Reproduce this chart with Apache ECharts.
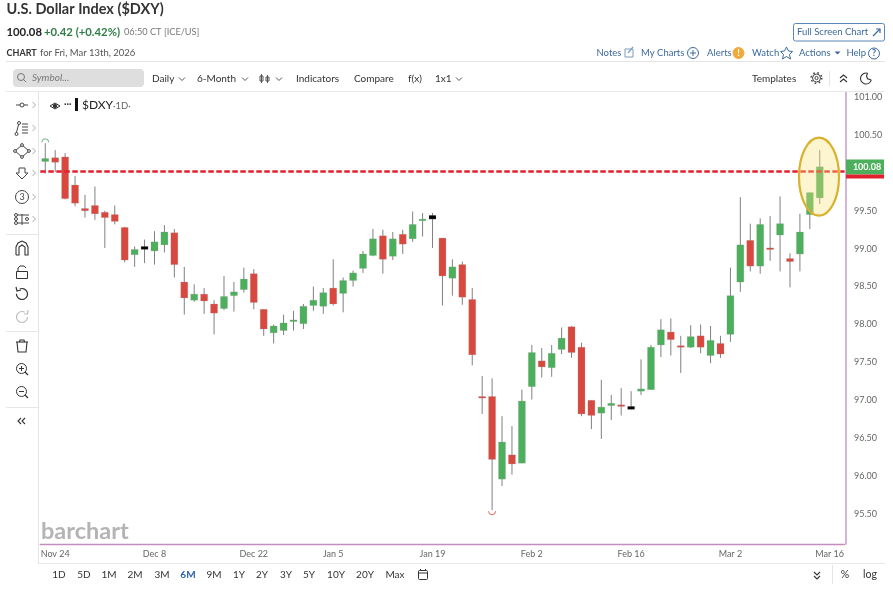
<!DOCTYPE html>
<html>
<head>
<meta charset="utf-8">
<title>U.S. Dollar Index ($DXY)</title>
<style>
html, body { margin: 0; padding: 0; background: #fff; }
#chart { width: 893px; height: 590px; }
</style>
<script src="https://cdn.jsdelivr.net/npm/echarts@6/dist/echarts.min.js"></script>
</head>
<body>
<div id="chart"></div>
<script>
// trading days, the last two are the empty slots right of the last bar
var dates = ['Nov 21',
    'Nov 24', 'Nov 25', 'Nov 26', 'Nov 27', 'Nov 28', 'Dec 1', 'Dec 2', 'Dec 3', 'Dec 4', 'Dec 5',
    'Dec 8', 'Dec 9', 'Dec 10', 'Dec 11', 'Dec 12', 'Dec 15', 'Dec 16', 'Dec 17', 'Dec 18', 'Dec 19',
    'Dec 22', 'Dec 23', 'Dec 24', 'Dec 26', 'Dec 29', 'Dec 30', 'Dec 31', 'Jan 2',
    'Jan 5', 'Jan 6', 'Jan 7', 'Jan 8', 'Jan 9', 'Jan 12', 'Jan 13', 'Jan 14', 'Jan 15', 'Jan 16',
    'Jan 19', 'Jan 20', 'Jan 21', 'Jan 22', 'Jan 23', 'Jan 26', 'Jan 27', 'Jan 28', 'Jan 29', 'Jan 30',
    'Feb 2', 'Feb 3', 'Feb 4', 'Feb 5', 'Feb 6', 'Feb 9', 'Feb 10', 'Feb 11', 'Feb 12', 'Feb 13',
    'Feb 16', 'Feb 17', 'Feb 18', 'Feb 19', 'Feb 20', 'Feb 23', 'Feb 24', 'Feb 25', 'Feb 26', 'Feb 27',
    'Mar 2', 'Mar 3', 'Mar 4', 'Mar 5', 'Mar 6', 'Mar 9', 'Mar 10', 'Mar 11', 'Mar 12', 'Mar 13',
    'Mar 16', 'Mar 17'];
var opens = [100.15, 100.20, 100.21, 99.84, 99.53, 99.57, 99.48, 99.45, 99.28, 98.92,
    99.03, 98.97, 99.05, 99.21, 98.56, 98.32, 98.40, 98.27, 98.21, 98.38,
    98.46, 98.67, 98.20, 97.89, 97.92, 98.04, 98.01, 98.25, 98.24, 98.48,
    98.41, 98.58, 98.74, 98.91, 99.17, 98.90, 99.19, 99.13, 99.37, 99.44,
    99.14, 98.61, 98.79, 98.33, 97.05, 97.05, 95.96, 96.28, 96.17, 97.18,
    97.52, 97.43, 97.67, 97.97, 97.70, 97.00, 96.83, 96.93, 96.94, 96.92,
    97.12, 97.14, 97.73, 97.90, 97.72, 97.70, 97.85, 97.59, 97.75, 97.87,
    98.56, 99.11, 98.77, 99.01, 99.18, 98.87, 98.93, 99.45, 99.67];
var closes = [100.19, 100.14, 99.66, 99.60, 99.50, 99.46, 99.41, 99.36, 98.85, 98.99,
    98.99, 99.09, 99.22, 98.79, 98.35, 98.40, 98.31, 98.15, 98.37, 98.43,
    98.60, 98.29, 97.94, 97.98, 98.02, 98.06, 98.24, 98.32, 98.42, 98.27,
    98.58, 98.68, 98.93, 99.13, 98.86, 99.13, 99.06, 99.32, 99.39, 99.39,
    98.64, 98.76, 98.36, 97.60, 97.03, 96.22, 96.45, 96.16, 96.99, 97.63,
    97.44, 97.62, 97.82, 97.63, 96.82, 96.80, 96.91, 96.96, 96.92, 96.88,
    97.15, 97.70, 97.93, 97.80, 97.70, 97.84, 97.70, 97.79, 97.61, 98.38,
    99.05, 98.77, 99.32, 98.99, 99.33, 98.83, 99.22, 99.74, 100.08];
var highs = [100.39, 100.30, 100.26, 99.96, 99.71, 99.82, 99.50, 99.57, 99.29, 99.03,
    99.12, 99.23, 99.31, 99.26, 98.76, 98.53, 98.48, 98.32, 98.64, 98.56,
    98.75, 98.73, 98.20, 98.00, 98.13, 98.18, 98.27, 98.50, 98.48, 98.86,
    98.62, 98.71, 98.97, 99.26, 99.25, 99.22, 99.25, 99.49, 99.47, 99.47,
    99.14, 98.86, 98.83, 98.48, 97.32, 97.29, 96.79, 96.66, 97.14, 97.73,
    97.69, 97.73, 97.96, 97.98, 97.76, 97.00, 97.27, 97.07, 97.16, 97.12,
    97.54, 97.73, 98.07, 98.08, 97.85, 97.99, 98.00, 97.98, 97.85, 98.75,
    99.68, 99.33, 99.40, 99.43, 99.69, 98.94, 99.46, 99.74, 100.30];
var lows = [99.99, 100.01, 99.65, 99.56, 99.41, 99.38, 99.01, 99.32, 98.82, 98.76,
    98.81, 98.79, 98.95, 98.62, 98.13, 98.30, 98.14, 97.87, 98.19, 98.17,
    98.42, 98.20, 97.85, 97.75, 97.86, 97.92, 97.94, 98.18, 98.14, 98.25,
    98.16, 98.50, 98.68, 98.90, 98.67, 98.85, 98.93, 99.09, 99.16, 99.01,
    98.25, 98.38, 98.26, 97.46, 96.82, 95.55, 95.87, 96.02, 96.17, 97.01,
    97.30, 97.31, 97.61, 97.56, 96.79, 96.62, 96.49, 96.74, 96.80, 96.88,
    97.07, 97.14, 97.57, 97.59, 97.36, 97.69, 97.62, 97.49, 97.56, 97.77,
    98.43, 98.70, 98.67, 98.84, 98.70, 98.49, 98.70, 99.26, 99.59];
var blackBars = [10, 39, 59];
var highBar = 0;
var lowBar = 45;
var tickDates = ['Nov 24', 'Dec 8', 'Dec 22', 'Jan 5', 'Jan 19', 'Feb 2', 'Feb 16', 'Mar 2', 'Mar 16'];
var yTicks = [95.5, 96, 96.5, 97, 97.5, 98, 98.5, 99, 99.5, 100.5, 101];
var dashLevel = 100.02;
var lastPrice = '100.08';
var rangeButtons = ['1D', '5D', '1M', '2M', '3M', '6M', '9M', '1Y', '2Y', '3Y', '5Y', '10Y', '20Y', 'Max'];
var rangeX = [59, 84, 109, 135, 162, 188, 214, 239, 262, 286, 309, 336, 365, 395];

var GREEN = '#4CAF5C', RED = '#D9483E', WICK = '#808080', INK = '#333', LINK = '#3C6A9E';
var FONT = 'Lato, "Open Sans", sans-serif';

function txt(x, y, s, font, fill, align) {
    return { type: 'text', z: 20, style: { x: x, y: y, text: s, font: font + ' ' + FONT, fill: fill || INK, textAlign: align || 'left', textVerticalAlign: 'middle' } };
}
function pl(points, color, w) {
    return { type: 'polyline', z: 20, shape: { points: points }, style: { stroke: color || INK, lineWidth: w || 1, fill: null } };
}
function circ(x, y, r, color, fill, w) {
    return { type: 'circle', z: 20, shape: { cx: x, cy: y, r: r }, style: { stroke: color || INK, lineWidth: w || 1, fill: fill || '#fff' } };
}
function box(x, y, w, h, fill, stroke, r) {
    return { type: 'rect', z: 20, shape: { x: x, y: y, width: w, height: h, r: r || 0 }, style: { fill: fill || null, stroke: stroke || null, lineWidth: 1 } };
}
function chevDown(x, y) {
    return pl([[x - 3, y - 1.5], [x, y + 1.5], [x + 3, y - 1.5]], '#555', 1);
}
function chevRight(x, y) {
    return pl([[x - 1.5, y - 3], [x + 1.5, y], [x - 1.5, y + 3]], '#AAA', 1);
}

function headerItems() {
    var g = [];
    g.push(txt(6.5, 9.5, 'U.S. Dollar Index ($DXY)', 'bold 14.5px'));
    g.push(txt(6.5, 32, '100.08', 'bold 11.3px', '#222'));
    g.push(txt(44, 32, '+0.42 (+0.42%)', 'bold 11.3px', '#2E7D46'));
    g.push(txt(124, 32, '06:50 CT [ICE/US]', '9.2px', '#777'));
    g.push(txt(6.5, 53, 'CHART', 'bold 9px', '#333'));
    g.push(txt(40, 53, 'for Fri, Mar 13th, 2026', '9.5px', '#555'));
    g.push(box(6, 61, 879, 1, '#E4E4E4'));

    // link row
    g.push(box(793.5, 23.5, 91, 17.5, '#fff', '#5B86B8', 2));
    g.push(txt(797, 32, 'Full Screen Chart', '9.5px', LINK));
    g.push(pl([[873, 36], [880, 29]], LINK, 1.2), pl([[876, 29], [880, 29], [880, 33]], LINK, 1.2));
    g.push(txt(596.5, 53, 'Notes', '9.5px', LINK));
    g.push(box(625, 49, 8, 8, null, '#7F9DBE'), pl([[628, 53], [633, 47]], '#7F9DBE', 1.2));
    g.push(txt(641, 53, 'My Charts', '9.5px', LINK));
    g.push(circ(693, 53, 5.5, LINK), pl([[690, 53], [696, 53]], LINK), pl([[693, 50], [693, 56]], LINK));
    g.push(txt(707, 53, 'Alerts', '9.5px', LINK));
    g.push(circ(738.5, 53, 5.5, '#F2A93B', '#F2A93B'), txt(738.5, 53, '!', 'bold 9px', '#fff', 'center'));
    g.push(txt(752, 53, 'Watch', '9.5px', LINK));
    g.push(pl([[786.5, 47], [788.5, 51], [792.5, 51.5], [789.5, 54.5], [790.5, 59], [786.5, 56.5], [782.5, 59], [783.5, 54.5], [780.5, 51.5], [784.5, 51], [786.5, 47]], LINK));
    g.push(txt(799, 53, 'Actions', '9.5px', LINK));
    g.push({ type: 'polygon', z: 20, shape: { points: [[834.5, 51.5], [840.5, 51.5], [837.5, 54.5]] }, style: { fill: LINK } });
    g.push(txt(846.5, 53, 'Help', '9.5px', LINK));
    g.push(circ(874, 53.5, 5.5, LINK), txt(874, 53.5, '?', 'bold 9px', LINK, 'center'));

    // toolbar
    g.push(box(13, 69, 131, 18, '#DEDEDE', null, 4));
    g.push(circ(21, 77, 3.5, '#777', 'transparent'), pl([[23.5, 79.5], [26, 82]], '#777'));
    g.push(txt(32, 78, 'Symbol...', 'italic 10px', '#777'));
    g.push(txt(152, 78.5, 'Daily', '10px'), chevDown(182, 79));
    g.push(txt(197, 78.5, '6-Month', '10px'), chevDown(245, 79));
    g.push(box(260, 76, 3, 5, null, '#555'), pl([[261.5, 74], [261.5, 83]], '#555'), box(266, 77, 3, 4, null, '#555'), pl([[267.5, 75], [267.5, 83]], '#555'), chevDown(279, 79));
    g.push(txt(296, 78.5, 'Indicators', '10px'));
    g.push(txt(354, 78.5, 'Compare', '10px'));
    g.push(txt(408, 78.5, 'f(x)', '10px'));
    g.push(txt(435, 78.5, '1x1', '10px'), chevDown(459, 79));
    g.push(txt(752, 78.5, 'Templates', '10px'));
    var teeth = circ(816.5, 78, 5.3, '#444', 'transparent', 1.5);
    teeth.style.lineDash = [1.6, 2.6];
    g.push(circ(816.5, 78, 4, '#444'), circ(816.5, 78, 1.6, '#444'), teeth);
    g.push(box(829, 71, 1, 15, '#E4E4E4'));
    g.push(pl([[840, 78], [843.5, 75], [847, 78]], '#333', 1.1), pl([[840, 82], [843.5, 79], [847, 82]], '#333', 1.1));
    g.push({ type: 'arc', z: 20, shape: { cx: 866, cy: 78.5, r: 5.5, startAngle: 0.3, endAngle: 5.0, clockwise: true }, style: { stroke: '#333', fill: null, lineWidth: 1.1 } });
    g.push(pl([[867.6, 73.2], [866.5, 76], [867.5, 78.8], [871.3, 80.1]], '#333', 1.1));
    g.push(box(6, 91, 879, 1, '#E8E8E8'));
    return g;
}

function sideItems() {
    var g = [];
    g.push(box(38, 92, 1, 471, '#E6E6E6'));
    [234, 331, 407].forEach(function(y) { g.push(box(6, y, 32, 1, '#E6E6E6')); });
    [105, 128, 151, 173, 197, 219].forEach(function(y) { g.push(chevRight(34, y)); });
    // line tool
    g.push(pl([[16, 105], [28, 105]], '#444'), circ(22, 105, 2, '#444'));
    // fib list
    g.push(pl([[16, 134], [19, 123]], '#444'), circ(16.5, 134, 1.5, '#444'), circ(19, 123, 1.5, '#444'));
    [124, 127, 130, 133].forEach(function(y) { g.push(pl([[22, y], [28, y]], '#444')); });
    // shape
    g.push(pl([[22, 145], [29, 151], [22, 157], [15, 151], [22, 145]], '#444'));
    [[22, 145], [29, 151], [22, 157], [15, 151]].forEach(function(p) { g.push(circ(p[0], p[1], 1.4, '#444')); });
    // arrow down
    g.push(pl([[19, 168], [25, 168], [25, 173], [28, 173], [22, 179], [16, 173], [19, 173], [19, 168]], '#444'));
    // counter
    g.push(circ(22, 197, 6.5, '#444'), txt(22, 197, '3', '9px', '#444', 'center'));
    // pattern tool
    g.push(pl([[15, 215], [29, 215]], '#444'), pl([[15, 223], [29, 223]], '#444'), pl([[22, 214], [22, 225]], '#444'));
    g.push(circ(16, 215, 1.5, '#444'), circ(16, 219, 1.5, '#444'), circ(16, 223, 1.5, '#444'), circ(27, 219, 1.5, '#444'));
    // magnet
    g.push(pl([[16, 255], [16, 247], [18, 243], [22, 241], [26, 243], [28, 247], [28, 255], [25, 255], [25, 247], [22, 245], [19, 247], [19, 255], [16, 255]], '#333', 1.1));
    // lock
    g.push(box(16.5, 271.5, 11, 7, null, '#333'), pl([[18, 271], [18, 268], [20, 266], [24, 266], [26, 268]], '#333'));
    // undo and redo
    g.push({ type: 'arc', z: 20, shape: { cx: 22, cy: 294, r: 5.5, startAngle: -2.0, endAngle: 3.2, clockwise: true }, style: { stroke: '#333', fill: null, lineWidth: 1.2 } });
    g.push(pl([[16, 287], [17, 291], [21, 290]], '#333', 1.2));
    g.push({ type: 'arc', z: 20, shape: { cx: 22, cy: 317, r: 5.5, startAngle: 0, endAngle: 5.2, clockwise: true }, style: { stroke: '#BBB', fill: null, lineWidth: 1.2 } });
    g.push(pl([[28, 310], [27.5, 314], [24, 314]], '#BBB', 1.2));
    // trash
    g.push(pl([[17, 342], [18, 352], [26, 352], [27, 342]], '#333', 1.1), pl([[16, 342], [28, 342]], '#333', 1.1), pl([[19.5, 342], [20, 340], [24, 340], [24.5, 342]], '#333', 1.1));
    // zoom in and out
    g.push(circ(21.5, 368.5, 5, '#333'), pl([[25, 372], [28, 375]], '#333', 1.2), pl([[19, 368.5], [24, 368.5]], '#333'), pl([[21.5, 366], [21.5, 371]], '#333'));
    g.push(circ(21.5, 391.5, 5, '#333'), pl([[25, 395], [28, 398]], '#333', 1.2), pl([[19, 391.5], [24, 391.5]], '#333'));
    // collapse
    g.push(pl([[21, 418], [18, 421], [21, 424]], '#333', 1.1), pl([[25, 418], [22, 421], [25, 424]], '#333', 1.1));
    return g;
}

function footerItems() {
    var g = [];
    g.push(box(38, 563, 847, 1, '#E8E8E8'));
    rangeButtons.forEach(function(b, i) {
        var on = b === '6M';
        g.push(txt(rangeX[i], 575, b, (on ? 'bold ' : '') + '10px', on ? '#2B63A8' : INK, 'center'));
    });
    g.push(box(418.5, 570.5, 9, 9, null, '#333', 1), pl([[418.5, 573], [427.5, 573]], '#333'), pl([[420.5, 569], [420.5, 571]], '#333'), pl([[425.5, 569], [425.5, 571]], '#333'));
    g.push(pl([[814, 572], [817, 575], [820, 572]], '#333', 1.1), pl([[814, 576], [817, 579], [820, 576]], '#333', 1.1));
    g.push(box(832, 565, 1, 19, '#E4E4E4'));
    g.push(txt(845, 575, '%', '10.5px', INK, 'center'));
    g.push(txt(870, 575, 'log', '10.5px', INK, 'center'));
    return g;
}

function chartItems() {
    var g = [];
    // legend
    g.push(pl([[50, 106], [55, 103], [60, 106], [55, 109], [50, 106]], '#333'), circ(55, 106, 1.8, '#333', '#333'));
    g.push(txt(64, 104, '···', 'bold 9px', '#333'));
    g.push(box(75, 98, 3, 13, '#111'));
    g.push(txt(82, 105.5, '$DXY', '12px', '#222'));
    g.push(txt(113, 105.5, '·1D·', '9.5px', '#666'));
    // watermark
    g.push(txt(41, 531.5, 'barchart', 'bold 23.5px', '#B4B4B4'));
    // highlight around the last two bars
    g.push({ type: 'ellipse', z: 15, shape: { cx: 819, cy: 176.7, rx: 20, ry: 39 }, style: { fill: 'rgba(248,225,120,0.35)', stroke: '#D8B22E', lineWidth: 2.2 } });
    // last price tag
    g.push(box(846, 159.5, 38, 15, '#4CAF5C'));
    g.push(box(846, 174.5, 38, 4, '#E3202E'));
    g.push(txt(867, 166.8, lastPrice, 'bold 9px', '#fff', 'center'));
    return g;
}

function renderCandle(params, api) {
    var i = api.value(0);
    var o = api.value(1), c = api.value(2);
    var x = api.coord([i, o])[0];
    var top = api.coord([i, Math.max(o, c)])[1];
    var bot = api.coord([i, Math.min(o, c)])[1];
    var hi = api.coord([i, api.value(4)])[1];
    var lo = api.coord([i, api.value(3)])[1];
    var color = blackBars.indexOf(i) >= 0 ? '#000' : (c >= o ? GREEN : RED);
    var h = Math.max(bot - top, 1.6);
    var kids = [
        { type: 'line', shape: { x1: x, y1: hi, x2: x, y2: lo }, style: { stroke: WICK, lineWidth: 1 } },
        { type: 'rect', shape: { x: x - 3.5, y: top, width: 7, height: h }, style: { fill: color, stroke: 'rgba(150,150,150,0.45)', lineWidth: 0.5 } }
    ];
    // little arcs on the period high and low
    if (i === highBar) {
        kids.push({ type: 'arc', shape: { cx: x, cy: hi - 1, r: 3.5, startAngle: Math.PI, endAngle: Math.PI * 2 }, style: { stroke: '#6DB27C', fill: null, lineWidth: 1 } });
    }
    if (i === lowBar) {
        kids.push({ type: 'arc', shape: { cx: x, cy: lo + 1, r: 3.5, startAngle: 0, endAngle: Math.PI }, style: { stroke: '#E0675E', fill: null, lineWidth: 1 } });
    }
    return { type: 'group', children: kids };
}

function initchart() {
    var chart = echarts.init(document.getElementById('chart'));
    var rows = opens.map(function(o, i) { return [i, o, closes[i], lows[i], highs[i]]; });
    var isTick = function(idx, val) { return tickDates.indexOf(val) >= 0; };
    var option = {
        animation: false,
        backgroundColor: '#fff',
        grid: { left: 40.3, top: 92, width: 804.3, height: 452 },
        xAxis: {
            type: 'category',
            data: dates,
            axisLine: { lineStyle: { color: '#C58CBF', width: 1.4 } },
            axisTick: { alignWithLabel: true, interval: isTick, length: 3, lineStyle: { color: '#C58CBF' } },
            axisLabel: { interval: isTick, color: '#666', fontSize: 9, fontFamily: 'Lato', margin: 6 }
        },
        yAxis: {
            type: 'value',
            position: 'right',
            offset: 1.4,
            min: 95.104,
            max: 101.067,
            axisLine: { show: true, lineStyle: { color: '#C59BC8', width: 1.5 } },
            axisTick: { show: false },
            splitLine: { show: false },
            axisLabel: {
                customValues: yTicks,
                color: '#666',
                fontSize: 9,
                fontFamily: 'Lato',
                margin: 8,
                formatter: function(v) { return v.toFixed(2); }
            }
        },
        series: [{
            type: 'custom',
            name: '$DXY',
            clip: false,
            renderItem: renderCandle,
            encode: { x: 0, y: [1, 2, 3, 4] },
            data: rows,
            z: 3,
            markLine: {
                silent: true,
                symbol: 'none',
                label: { show: false },
                lineStyle: { color: '#E3202E', type: [5.5, 2.5], width: 2.6 },
                data: [{ yAxis: dashLevel }],
                z: 5
            }
        }],
        graphic: { elements: headerItems().concat(sideItems(), footerItems(), chartItems()) }
    };
    chart.setOption(option);
}

initchart();
</script>
</body>
</html>
